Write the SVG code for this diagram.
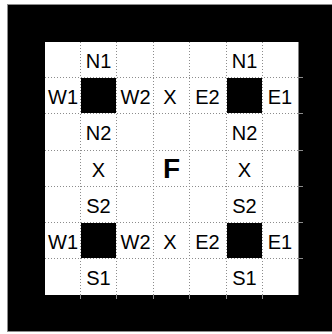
<svg xmlns="http://www.w3.org/2000/svg" width="332" height="334" viewBox="0 0 332 334">
  <style>
    .grid { stroke: #8c8c8c; stroke-width: 1; stroke-dasharray: 1 2; fill: none; }
    .tick { stroke: #8c8c8c; stroke-width: 1; fill: none; }
    .lbl { font-family: "Liberation Sans", Arial, sans-serif; font-size: 20px; fill: #000; text-anchor: middle; }
    .big { font-family: "Liberation Sans", Arial, sans-serif; font-size: 28px; font-weight: bold; fill: #000; text-anchor: middle; }
    .wall { fill: #000; }
  </style>
  <rect x="0" y="0" width="332" height="334" fill="#fff"/>
  <rect x="7.5" y="4.5" width="326" height="327" fill="#000" stroke="#8c8c8c" stroke-width="1"/>
  <rect x="45" y="42" width="253.5" height="253" fill="#fff"/>
  <g id="grid">
    <path class="grid" d="M80.5 42V295 M116.5 42V295 M153.5 42V295 M189.5 42V295 M226.5 42V295 M262.5 42V295"/>
    <path class="grid" d="M45 77.5H298.5 M45 113.5H298.5 M45 150.5H298.5 M45 186.5H298.5 M45 222.5H298.5 M45 258.5H298.5"/>
    <path class="tick" d="M298.5 77.5H303 M298.5 113.5H303 M298.5 150.5H303 M298.5 186.5H303 M298.5 222.5H303 M298.5 258.5H303"/>
    <path class="tick" d="M80.5 295V299 M116.5 295V299 M153.5 295V299 M189.5 295V299 M226.5 295V299 M262.5 295V299"/>
  </g>
  <g id="walls">
    <rect class="wall" x="81" y="78" width="35" height="35"/>
    <rect class="wall" x="227" y="78" width="35" height="35"/>
    <rect class="wall" x="81" y="223" width="35" height="35"/>
    <rect class="wall" x="227" y="223" width="35" height="35"/>
  </g>
  <g id="labels">
    <text class="lbl" x="98.5" y="67.5">N1</text>
    <text class="lbl" x="244.5" y="67.5">N1</text>
    <text class="lbl" x="63" y="104">W1</text>
    <text class="lbl" x="135.5" y="104">W2</text>
    <text class="lbl" x="170" y="104">X</text>
    <text class="lbl" x="207.5" y="104">E2</text>
    <text class="lbl" x="280" y="104">E1</text>
    <text class="lbl" x="98.5" y="140">N2</text>
    <text class="lbl" x="244.5" y="140">N2</text>
    <text class="lbl" x="98.5" y="176.5">X</text>
    <text class="big" x="171.5" y="177.5">F</text>
    <text class="lbl" x="244.5" y="176.5">X</text>
    <text class="lbl" x="98.5" y="212.5">S2</text>
    <text class="lbl" x="244.5" y="212.5">S2</text>
    <text class="lbl" x="63" y="248.5">W1</text>
    <text class="lbl" x="135.5" y="248.5">W2</text>
    <text class="lbl" x="170" y="248.5">X</text>
    <text class="lbl" x="207.5" y="248.5">E2</text>
    <text class="lbl" x="280" y="248.5">E1</text>
    <text class="lbl" x="98.5" y="285">S1</text>
    <text class="lbl" x="244.5" y="285">S1</text>
  </g>
</svg>
